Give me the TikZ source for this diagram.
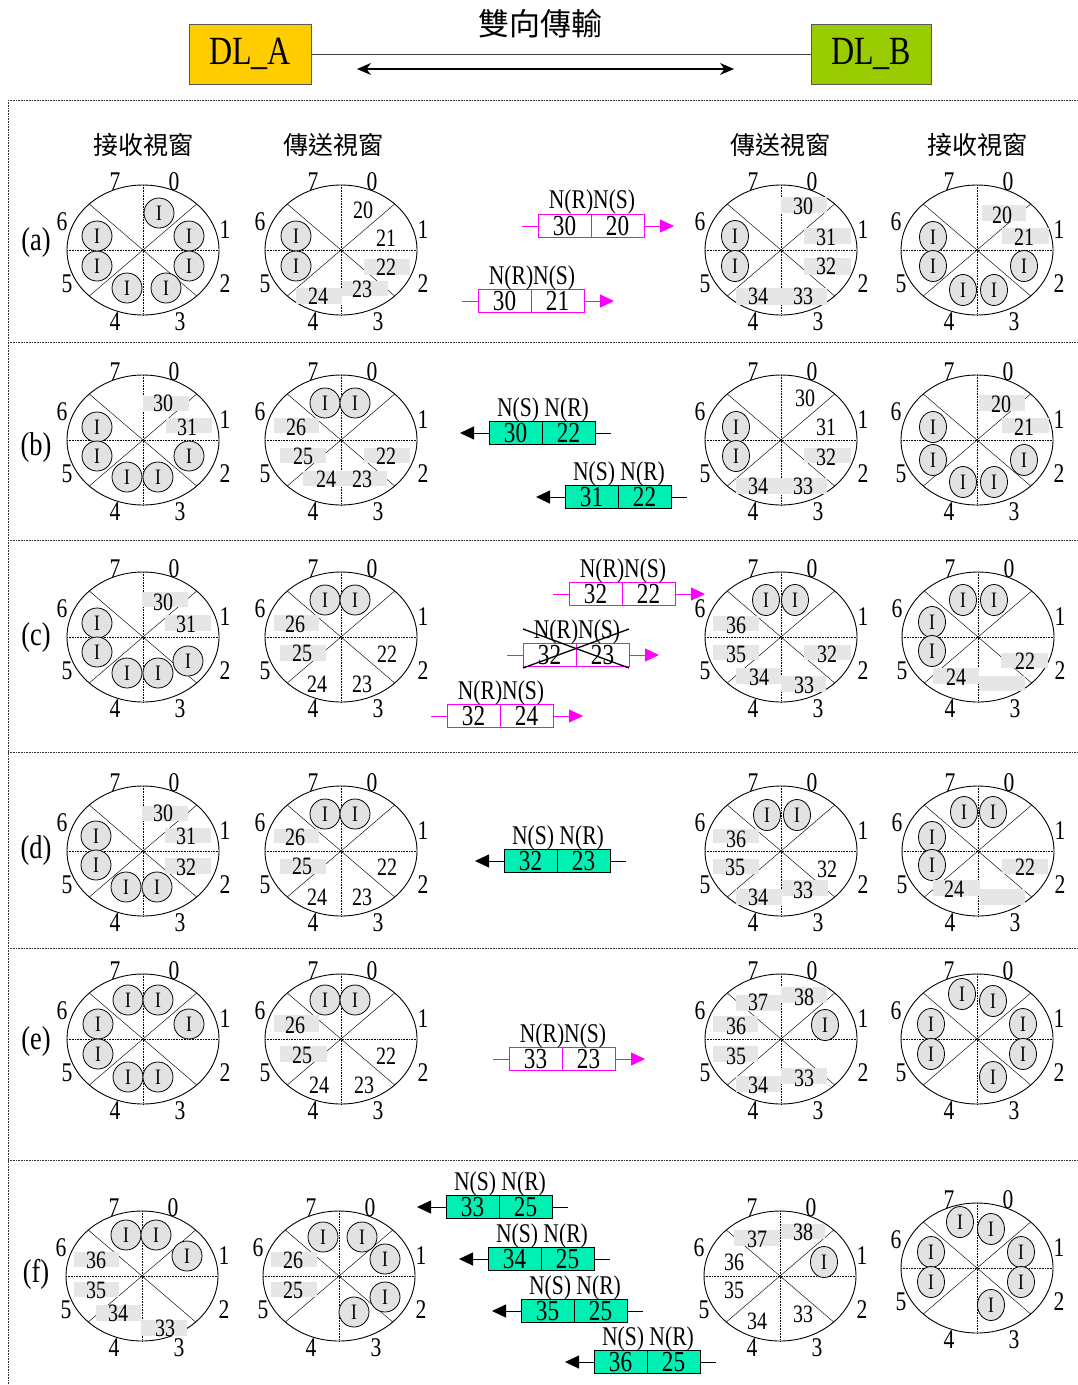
\documentclass[tikz,border=0pt]{standalone}
\usepackage{fontspec}
\setmainfont{Liberation Serif}[FakeStretch=0.8]
\newfontfamily\cjk{Noto Sans CJK TC}
\usetikzlibrary{shapes.geometric,arrows.meta}
\definecolor{igray}{RGB}{226,226,226}
\definecolor{bgray}{RGB}{230,230,230}
\definecolor{mag}{RGB}{255,0,255}
\definecolor{mint}{RGB}{0,240,180}
\definecolor{dlA}{RGB}{255,204,0}
\definecolor{dlB}{RGB}{153,204,0}
\newcommand{\fsz}[1]{\fontsize{#1}{#1}\selectfont}
\tikzset{
  wl/.style={line width=0.9pt},
  dg/.style={line width=0.45pt},
  dl/.style={line width=0.6pt, densely dotted},
  sepl/.style={line width=0.6pt, densely dotted, black!80},
  lab/.style={inner sep=0pt, font=\fsz{27}},
  num/.style={inner sep=0pt, font=\fsz{25}},
  icL/.style={circle, draw, line width=0.8pt, fill=igray, minimum size=30pt, inner sep=0pt, font=\fsz{22}},
  icR/.style={ellipse, draw, line width=0.8pt, fill=igray, minimum width=27pt, minimum height=31pt, inner sep=0pt, font=\fsz{22}},
  mcellR/.style={draw=mag, line width=1pt, fill=white, minimum width=53pt, minimum height=23pt, inner sep=0pt, outer sep=0pt, font=\fsz{29}},
  mcellG/.style={draw=black, line width=0.9pt, fill=mint, minimum width=53pt, minimum height=23pt, inner sep=0pt, outer sep=0pt, font=\fsz{29}},
  mlab/.style={inner sep=0pt, font=\fsz{27}},
  rowlab/.style={inner sep=0pt, font=\fsz{33}},
  colhead/.style={inner sep=0pt, font=\cjk\fsz{25}},
  dlbox/.style={draw=black!65, line width=0.9pt, minimum height=60pt, inner sep=0pt, font=\fsz{40}},
}
\newcommand{\wI}[3]{\node[icL] (#1) at (#2,#3) {I};}
\newcommand{\wIr}[3]{\node[icR] (#1) at (#2,#3) {I};}
\newcommand{\wN}[3]{\node[num] (n#3) at (#1,#2) {#3};}
\newcommand{\wB}[4]{\fill[bgray] (#1,#2) rectangle (#3,#4);}
\newcommand{\wheel}[4]{%
 \begin{scope}[shift={(#2,#3)}, name prefix=#1-]
  \draw[wl] (0,0) ellipse [x radius=76pt, y radius=65pt];
  \draw[dg] (-53.7,-46) -- (53.7,46) (-53.7,46) -- (53.7,-46);
  \draw[dl] (0,-65) -- (0,65) (-76,0) -- (76,0);
  \node[lab] (l0) at (31,-68) {0};
  \node[lab] (l1) at (82,-20) {1};
  \node[lab] (l2) at (82,34) {2};
  \node[lab] (l3) at (37,72) {3};
  \node[lab] (l4) at (-28,72) {4};
  \node[lab] (l5) at (-76,34) {5};
  \node[lab] (l6) at (-81,-28) {6};
  \node[lab] (l7) at (-28,-68) {7};
  #4
 \end{scope}}
\newcommand{\msgR}[5]{%
  \node[mcellR, anchor=east] (#1-a) at (#2,#3) {#4};
  \node[mcellR, anchor=west] (#1-b) at (#2,#3) {#5};
  \node[mlab] (#1-l) at (#2+1,#3-23.5) {N(R)N(S)};
  \coordinate (#1-s) at (#2-69,#3);
  \coordinate (#1-t) at (#2+83,#3);
  \draw[mag, line width=1pt] (#1-s) -- (#1-a);
  \draw[mag, line width=1pt, -{Triangle[length=14pt,width=13pt]}] (#1-b) -- (#1-t);
}
\newcommand{\msgL}[5]{%
  \node[mcellG, anchor=east] (#1-a) at (#2,#3) {#4};
  \node[mcellG, anchor=west] (#1-b) at (#2,#3) {#5};
  \node[mlab] (#1-l) at (#2+1,#3-23.5) {N(S) N(R)};
  \coordinate (#1-s) at (#2+69,#3);
  \coordinate (#1-t) at (#2-82,#3);
  \draw[black, line width=1pt] (#1-b) -- (#1-s);
  \draw[black, line width=1pt, -{Triangle[length=14pt,width=13pt]}] (#1-a) -- (#1-t);
}
\begin{document}
\begin{tikzpicture}[x=1pt,y=-1pt]
\useasboundingbox (0,0) rectangle (1078,1385);
\fill[white] (0,0) rectangle (1078,1385);
% header
\node[dlbox, fill=dlA, minimum width=122pt] (dla) at (250,54) {DL\_A};
\node[dlbox, fill=dlB, minimum width=120pt] (dlb) at (871,54) {DL\_B};
\draw[line width=0.8pt, black!75] (dla) -- (dlb);
\coordinate (ha) at (357,69);
\coordinate (hb) at (734,69);
\draw[line width=1.2pt, {Stealth[length=14pt,width=12pt]}-{Stealth[length=14pt,width=12pt]}] (ha) -- (hb);
\node[inner sep=0pt, font=\cjk\fsz{31}] (title) at (540,24) {雙向傳輸};
% frame
\draw[sepl] (8,100) -- (1078,100);
\draw[sepl] (8,100) -- (8,1385);
\draw[sepl] (8,342) -- (1078,342);
\draw[sepl] (8,540) -- (1078,540);
\draw[sepl] (8,752) -- (1078,752);
\draw[sepl] (8,948) -- (1078,948);
\draw[sepl] (8,1160) -- (1078,1160);
% column heads
\node[colhead] (h1) at (143,145) {接收視窗};
\node[colhead] (h2) at (333,145) {傳送視窗};
\node[colhead] (h3) at (780,145) {傳送視窗};
\node[colhead] (h4) at (977,145) {接收視窗};
% row labels
\node[rowlab] (ra) at (36,243) {(a)};
\node[rowlab] (rb) at (36,448) {(b)};
\node[rowlab] (rc) at (36,638) {(c)};
\node[rowlab] (rd) at (36,851) {(d)};
\node[rowlab] (re) at (36,1042) {(e)};
\node[rowlab] (rf) at (36,1274) {(f)};
% ---------- row a
\wheel{a1}{143}{250}{\wI{s0}{16}{-37}\wI{s1}{46}{-14}\wI{s2}{46}{16}\wI{s3}{23}{38}\wI{s4}{-16}{38}\wI{s5}{-46}{16}\wI{s6}{-46}{-14}}
\wheel{a2}{341}{250}{\wI{s6}{-45}{-14}\wI{s5}{-45}{16}\wN{22}{-40}{20}\wN{45}{-12}{21}\wB{23}{9}{69}{25}\wN{45}{17}{22}\wB{1}{31}{47}{46}\wN{21}{39}{23}\wB{-45}{38}{1}{54}\wN{-23}{46}{24}}
\wheel{a3}{781}{250}{\wIr{s6}{-46}{-14}\wIr{s5}{-46}{16}\wB{0}{-53}{46}{-37}\wN{22}{-44}{30}\wB{23}{-22}{70}{-6}\wN{45}{-13}{31}\wB{23}{8}{70}{25}\wN{45}{16}{32}\wB{-45}{38}{46}{55}\wN{-23}{46}{34}\wN{22}{46}{33}}
\wheel{a4}{977}{250}{\wIr{s6}{-44}{-13}\wIr{s5}{-44}{16}\wIr{s4}{-14}{40}\wIr{s3}{17}{40}\wIr{s2}{47}{16}\wB{5}{-45}{49}{-29}\wN{25}{-35}{20}\wB{25}{-22}{72}{-6}\wN{47}{-13}{21}}
\msgR{ma1}{591}{226}{30}{20}
\msgR{ma2}{531}{301}{30}{21}
% ---------- row b
\wheel{b1}{143}{440}{\wI{s6}{-46}{-13}\wI{s5}{-46}{16}\wI{s4}{-16}{37}\wI{s3}{15}{37}\wI{s2}{46}{16}\wB{0}{-44}{46}{-29}\wN{20}{-37}{30}\wB{23}{-22}{69}{-7}\wN{44}{-13}{31}}
\wheel{b2}{341}{440}{\wI{s7}{-16}{-37}\wI{s0}{14}{-37}\wB{-67}{-22}{-22}{-7}\wN{-45}{-13}{26}\wB{-61}{8}{-15}{23}\wN{-38}{16}{25}\wB{23}{8}{69}{23}\wN{45}{16}{22}\wB{-38}{31}{46}{46}\wN{-15}{39}{24}\wN{21}{39}{23}}
\wheel{b3}{781}{440}{\wIr{s6}{-45}{-13}\wIr{s5}{-45}{16}\wN{24}{-42}{30}\wN{45}{-13}{31}\wB{23}{8}{70}{23}\wN{45}{17}{32}\wB{-45}{38}{46}{54}\wN{-23}{46}{34}\wN{22}{46}{33}}
\wheel{b4}{977}{440}{\wIr{s6}{-44}{-13}\wIr{s5}{-44}{20}\wIr{s4}{-14}{42}\wIr{s3}{17}{42}\wIr{s2}{47}{20}\wB{2}{-45}{48}{-29}\wN{24}{-36}{20}\wB{25}{-22}{72}{-7}\wN{47}{-13}{21}}
\msgL{mb1}{542}{433}{30}{22}
\msgL{mb2}{618}{497}{31}{22}
% ---------- row c
\wheel{c1}{143}{637}{\wI{s6}{-46}{-14}\wI{s5}{-46}{15}\wI{s4}{-16}{36}\wI{s3}{15}{36}\wI{s2}{45}{24}\wB{-1}{-45}{45}{-30}\wN{20}{-35}{30}\wB{22}{-22}{68}{-6}\wN{43}{-13}{31}}
\wheel{c2}{341}{637}{\wI{s7}{-16}{-37}\wI{s0}{14}{-37}\wB{-67}{-22}{-22}{-6}\wN{-46}{-13}{26}\wB{-61}{8}{-15}{24}\wN{-39}{16}{25}\wN{46}{17}{22}\wN{-24}{47}{24}\wN{21}{47}{23}}
\wheel{c3}{781}{637}{\wIr{s7}{-15}{-37}\wIr{s0}{14}{-37}\wB{-68}{-21}{-22}{-6}\wN{-45}{-12}{36}\wB{-68}{8}{-22}{23}\wN{-45}{17}{35}\wB{23}{8}{70}{23}\wN{46}{17}{32}\wB{-45}{31}{0}{47}\wN{-22}{40}{34}\wB{0}{39}{45}{55}\wN{23}{48}{33}}
\wheel{c4}{978}{637}{\wIr{s7}{-15}{-37}\wIr{s0}{16}{-37}\wIr{s6}{-46}{-15}\wIr{s5}{-46}{14}\wB{23}{16}{70}{31}\wN{47}{24}{22}\wB{-45}{31}{1}{47}\wN{-22}{40}{24}\wB{1}{39}{47}{54}}
\msgR{mc1}{622}{594}{32}{22}
\msgR{mc2}{576}{655}{32}{23}
\msgR{mc3}{500}{716}{32}{24}
\coordinate (xa) at (523,629);
\coordinate (xb) at (629,668);
\coordinate (xc) at (523,668);
\coordinate (xd) at (629,629);
\draw[line width=1.3pt] (xa) -- (xb);
\draw[line width=1.3pt] (xc) -- (xd);
% ---------- row d
\wheel{d1}{143}{851}{\wI{s6}{-47}{-15}\wI{s5}{-47}{14}\wI{s4}{-17}{36}\wI{s3}{14}{36}\wB{-1}{-45}{45}{-30}\wN{20}{-38}{30}\wB{22}{-23}{68}{-8}\wN{43}{-15}{31}\wB{22}{7}{68}{23}\wN{43}{16}{32}}
\wheel{d2}{341}{851}{\wI{s7}{-16}{-37}\wI{s0}{14}{-37}\wB{-67}{-22}{-22}{-8}\wN{-46}{-14}{26}\wB{-61}{8}{-15}{23}\wN{-39}{15}{25}\wN{46}{16}{22}\wN{-24}{46}{24}\wN{21}{46}{23}}
\wheel{d3}{781}{851}{\wIr{s7}{-14}{-36}\wIr{s0}{16}{-36}\wB{-68}{-22}{-22}{-8}\wN{-45}{-12}{36}\wB{-68}{8}{-22}{23}\wN{-46}{16}{35}\wN{46}{18}{32}\wB{-45}{38}{1}{54}\wN{-23}{46}{34}\wB{1}{29}{47}{45}\wN{22}{39}{33}}
\wheel{d4}{978}{851}{\wIr{s7}{-14}{-39}\wIr{s0}{15}{-39}\wIr{s6}{-46}{-14}\wIr{s5}{-46}{14}\wB{24}{8}{70}{23}\wN{47}{16}{22}\wB{-45}{29}{2}{45}\wN{-24}{38}{24}\wB{2}{38}{47}{54}}
\msgL{md1}{557}{861}{32}{23}
% ---------- row e
\wheel{e1}{143}{1039}{\wI{s7}{-15}{-39}\wI{s0}{15}{-39}\wI{s1}{46}{-15}\wI{s6}{-45}{-15}\wI{s5}{-45}{15}\wI{s4}{-15}{38}\wI{s3}{15}{38}}
\wheel{e2}{341}{1039}{\wI{s7}{-16}{-39}\wI{s0}{14}{-39}\wB{-67}{-24}{-22}{-7}\wN{-46}{-14}{26}\wB{-61}{7}{-14}{23}\wN{-39}{16}{25}\wN{45}{17}{22}\wN{-22}{46}{24}\wN{23}{46}{23}}
\wheel{e3}{781}{1039}{\wIr{s1}{44}{-14}\wB{0}{-52}{46}{-36}\wN{23}{-42}{38}\wB{-45}{-44}{0}{-28}\wN{-23}{-37}{37}\wB{-68}{-23}{-23}{-7}\wN{-45}{-13}{36}\wB{-68}{7}{-23}{23}\wN{-45}{17}{35}\wB{-45}{37}{0}{53}\wN{-23}{46}{34}\wB{0}{29}{46}{45}\wN{23}{39}{33}}
\wheel{e4}{977}{1039}{\wIr{s6}{-46}{-15}\wIr{s5}{-46}{15}\wIr{s7}{-15}{-45}\wIr{s0}{16}{-38}\wIr{s1}{46}{-15}\wIr{s2}{46}{15}\wIr{s3}{16}{38}}
\msgR{me1}{562}{1059}{33}{23}
% ---------- row f
\wheel{f1}{142}{1276}{\wI{s7}{-16}{-41}\wI{s0}{14}{-41}\wI{s1}{45}{-20}\wB{-68}{-24}{-23}{-9}\wN{-46}{-16}{36}\wB{-68}{6}{-23}{21}\wN{-46}{14}{35}\wB{-46}{29}{-1}{45}\wN{-24}{37}{34}\wB{-1}{44}{45}{60}\wN{23}{52}{33}}
\wheel{f2}{339}{1276}{\wI{s7}{-16}{-39}\wI{s0}{23}{-39}\wI{s1}{46}{-17}\wI{s2}{46}{21}\wI{s3}{15}{36}\wB{-68}{-24}{-22}{-9}\wN{-46}{-16}{26}\wB{-68}{6}{-22}{21}\wN{-46}{14}{25}}
\wheel{f3}{780}{1276}{\wIr{s1}{44}{-14}\wB{1}{-52}{45}{-37}\wN{23}{-44}{38}\wB{-46}{-46}{0}{-30}\wN{-23}{-37}{37}\wN{-46}{-14}{36}\wN{-46}{14}{35}\wN{-23}{45}{34}\wN{23}{38}{33}}
\wheel{f4}{977}{1268}{\wIr{s6}{-46}{-16}\wIr{s5}{-46}{14}\wIr{s7}{-17}{-46}\wIr{s0}{14}{-39}\wIr{s1}{44}{-16}\wIr{s2}{44}{14}\wIr{s3}{14}{37}}
\msgL{mf1}{499}{1207}{33}{25}
\msgL{mf2}{541}{1259}{34}{25}
\msgL{mf3}{574}{1311}{35}{25}
\msgL{mf4}{647}{1362}{36}{25}
\end{tikzpicture}
\end{document}
